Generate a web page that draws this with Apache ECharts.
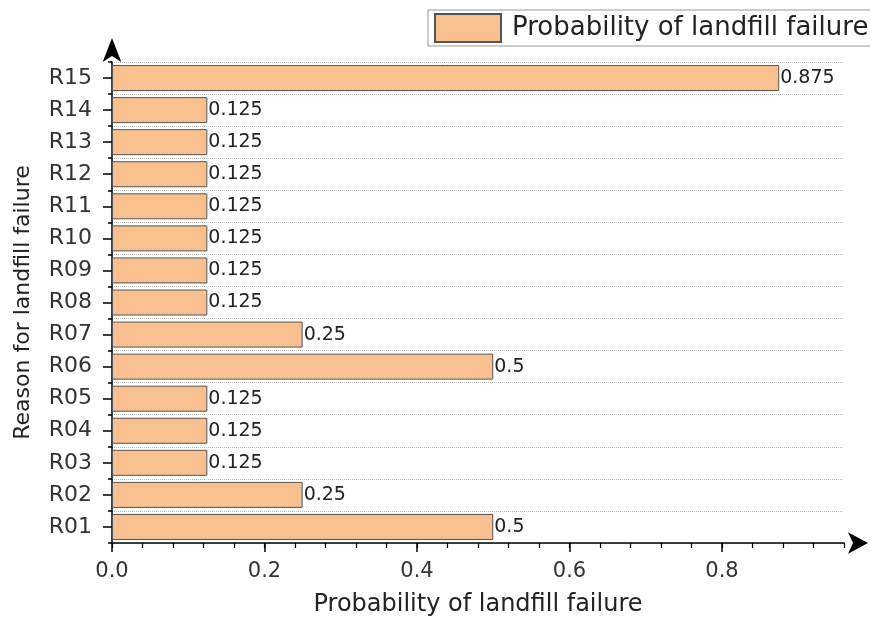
<!DOCTYPE html>
<html>
<head>
<meta charset="utf-8">
<script src="https://cdn.jsdelivr.net/npm/echarts@6/dist/echarts.min.js"></script>
<style>html,body{margin:0;padding:0;background:#fff}#c{width:870px;height:620px}</style>
</head>
<body>
<div id="c"></div>
<script>
const categories = ['R01','R02','R03','R04','R05','R06','R07','R08','R09','R10','R11','R12','R13','R14','R15'];
const probability = [0.5, 0.25, 0.125, 0.125, 0.125, 0.5, 0.25, 0.125, 0.125, 0.125, 0.125, 0.125, 0.125, 0.125, 0.875];
const xTickLabels = [0, 0.2, 0.4, 0.6, 0.8];
const seriesName = 'Probability of landfill failure';
const xTitle = 'Probability of landfill failure';
const yTitle = 'Reason for landfill failure';

const FONT = 'DejaVu Sans';
const chart = echarts.init(document.getElementById('c'), null, {renderer: 'canvas'});
chart.setOption({
  backgroundColor: '#fff',
  animation: false,
  textStyle: {fontFamily: FONT},
  legend: {
    left: 428, top: 10,
    padding: [3, 6, 3, 6],
    borderColor: '#999', borderWidth: 1,
    icon: 'rect',
    itemWidth: 66, itemHeight: 28,
    textStyle: {fontFamily: FONT, fontSize: 26, color: '#222', padding: [0, 0, 0, 6]},
    data: [seriesName]
  },
  grid: {left: 112, right: 26, top: 62, bottom: 77, containLabel: false, outerBoundsMode: 'none'},
  xAxis: [{
    type: 'value', min: 0, max: 0.96, interval: 0.04, position: 'bottom',
    name: xTitle, nameLocation: 'middle', nameGap: 50, nameMoveOverlap: false,
    nameTextStyle: {fontFamily: FONT, fontSize: 24, color: '#222'},
    axisLine: {show: true, lineStyle: {color: '#000', width: 1.5}, symbol: ['none', 'arrow'], symbolSize: [16, 20], symbolOffset: [0, 24]},
    axisTick: {show: true, customValues: xTickLabels, length: 9, lineStyle: {color: '#000', width: 1.5}},
    axisLabel: {customValues: xTickLabels, margin: 18, fontFamily: FONT, fontSize: 21, color: '#333', formatter: v => v.toFixed(1)},
    splitLine: {show: false}
  }, {
    type: 'value', min: 0, max: 0.96, interval: 0.04, position: 'bottom',
    axisLine: {show: false},
    axisTick: {show: true, length: 5, lineStyle: {color: '#000', width: 1.2}},
    axisLabel: {show: false},
    splitLine: {show: false}
  }],
  yAxis: [{
    type: 'category', data: categories, position: 'left',
    name: yTitle, nameLocation: 'middle', nameGap: 78, nameRotate: 90, nameMoveOverlap: false,
    nameTextStyle: {fontFamily: FONT, fontSize: 22, color: '#222'},
    axisLine: {show: true, lineStyle: {color: '#000', width: 1.5}, symbol: ['none', 'arrow'], symbolSize: [14, 24], symbolOffset: [0, 24]},
    axisTick: {show: true, alignWithLabel: true, length: 9, lineStyle: {color: '#000', width: 1.5}},
    axisLabel: {margin: 20, fontFamily: FONT, fontSize: 22, color: '#333'},
    splitLine: {show: true, lineStyle: {color: '#bbb', type: 'dotted', width: 1}}
  }, {
    type: 'category', data: categories, position: 'left',
    axisLine: {show: false},
    axisTick: {show: true, length: 4, lineStyle: {color: '#000', width: 1.5}},
    axisLabel: {show: false},
    splitLine: {show: false}
  }],
  series: [{
    name: seriesName, type: 'bar', xAxisIndex: 0, yAxisIndex: 0,
    data: probability, barWidth: 26,
    itemStyle: {color: '#F9C08F', borderColor: '#555', borderWidth: 1},
    label: {show: true, position: 'right', distance: 1, fontFamily: FONT, fontSize: 19, color: '#222'}
  }]
});
</script>
</body>
</html>
